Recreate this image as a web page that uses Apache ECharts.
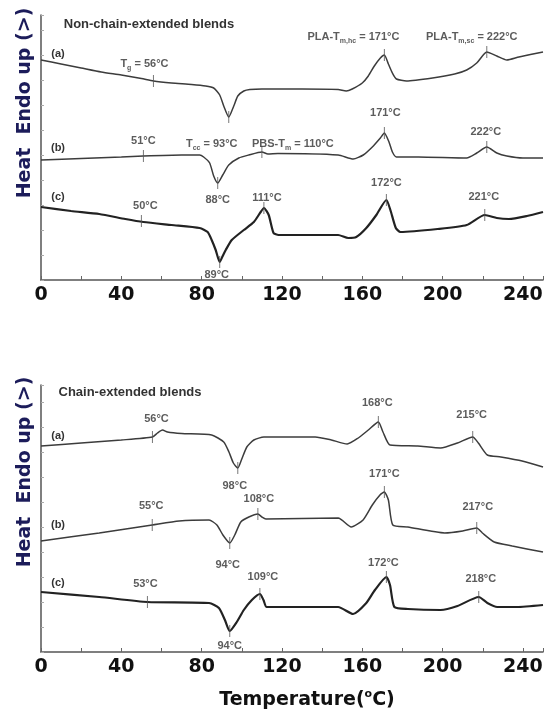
<!DOCTYPE html>
<html>
<head>
<meta charset="utf-8">
<script src="https://cdn.jsdelivr.net/npm/echarts@6/dist/echarts.min.js"></script>
<style>
html, body { margin: 0; padding: 0; background: #fff; }
#dsc { width: 546px; height: 711px; }
</style>
</head>
<body>
<div id="dsc"></div>
<script>
// temperature (°C) vs heat flow (arbitrary units, endo up)
var xTicks = [0, 40, 80, 120, 160, 200, 240]

// non-chain-extended blends
var topA = [[0, 220], [10, 216], [20, 212], [30, 208], [40, 205], [50, 201.5], [56, 199], [65, 197], [75, 195.5], [82, 194],
    [86, 192], [89, 185], [91, 174], [93.5, 163], [96, 174], [98, 184], [101, 189], [104, 190.5], [110, 191], [130, 191],
    [148, 190.5], [152, 189], [155, 191], [160, 197], [163, 204], [166, 214], [169, 222], [171, 225], [173, 216], [175, 207],
    [177, 201], [182, 199], [195, 202], [206, 206], [212, 210], [217, 217], [222, 228], [227, 224], [232, 220], [238, 223], [250, 228]]
var topB = [[0, 120], [20, 121.5], [40, 123], [51, 124], [70, 125], [79, 125], [81, 123], [84, 117], [86, 104], [88, 97],
    [90.5, 105], [93.5, 115], [98.5, 122], [103.5, 125], [110, 128], [113, 126], [118, 126.5], [148, 125], [155.5, 121], [160.5, 125],
    [165, 133], [169, 142], [171, 147], [173.3, 138], [175, 128], [177, 123], [188, 123], [212, 122], [217, 127], [222, 133],
    [227, 127], [232, 124], [240, 122], [250, 122]]
var topC = [[0, 73], [15, 69], [29, 66], [42, 61], [51, 58], [65, 55], [79, 52], [83, 48], [85, 40], [87, 30], [89, 18],
    [90.5, 24], [92, 30], [95, 40], [101, 50], [106, 58], [109.4, 68], [111, 72], [113.4, 65], [115.8, 47], [118.3, 45],
    [148, 45], [153, 42], [157, 43], [162, 52], [167, 65], [172, 80], [174, 70], [176.7, 52], [179, 48], [197.5, 51],
    [212, 55], [221, 65], [227, 62], [233, 61], [242, 64], [250, 68]]

// chain-extended blends
var botA = [[0, 206], [20, 209], [40, 212], [55.5, 215], [58, 219], [60.5, 222], [63, 220], [70, 218.5], [85, 217], [91, 210],
    [93.6, 200], [95.8, 189], [98, 184], [99.8, 192], [102.5, 205], [106, 212], [111, 215], [136.6, 215], [144.6, 212], [152.5, 208],
    [158, 214], [163, 222], [168, 230], [170.3, 220], [173.8, 207], [187.6, 206], [199, 204], [207.4, 209], [215, 215], [217.8, 209],
    [222.3, 197], [229, 195], [239.6, 191], [250, 185]]
var botB = [[0, 111], [29, 119], [55.4, 127], [68.8, 131], [83.7, 132], [87.6, 127], [90.6, 117], [94, 109], [96.5, 117], [99.5, 130],
    [103.5, 135], [108, 138], [110, 135], [112, 133], [148, 134], [154.5, 125], [160.4, 132], [165, 147], [168.8, 157], [171, 160],
    [173, 152], [175.2, 127], [182.7, 125], [201, 119], [210, 121], [217, 124], [219.8, 119], [225.7, 110], [234.7, 106], [250, 100]]
var botC = [[0, 60], [29, 55], [53, 50], [83.7, 49], [88.6, 44], [91.6, 32], [94, 21], [97.5, 30], [101, 42], [105, 52], [109, 58],
    [110.8, 52], [112.4, 45], [148, 45], [155.4, 38], [162, 49], [166.3, 62], [172, 75], [173.8, 67], [176, 45], [182.7, 43],
    [199, 42], [207.4, 46], [218, 55], [222.3, 49], [227.2, 45], [237, 45], [250, 47]]

// labelled transitions [T, heat flow, text]
var marksTop = [
    [56, 199, 'T{s|g} = 56°C'], [93.5, 163, 'T{s|cc} = 93°C'], [110, 128, 'PBS-T{s|m} = 110°C'],
    [171, 225, 'PLA-T{s|m,hc} = 171°C'], [222, 228, 'PLA-T{s|m,sc} = 222°C'],
    [51, 124, '51°C'], [88, 97, '88°C'], [171, 147, '171°C'], [222, 133, '222°C'],
    [50, 59, '50°C'], [89, 18, '89°C'], [111, 72, '111°C'], [172, 80, '172°C'], [221, 65, '221°C']
]
var marksBot = [
    [55.5, 215, '56°C'], [98, 184, '98°C'], [168, 230, '168°C'], [215, 215, '215°C'],
    [55.4, 127, '55°C'], [94, 109, '94°C'], [108, 138, '108°C'], [171, 160, '171°C'], [217, 124, '217°C'],
    [53, 50, '53°C'], [94, 21, '94°C'], [109, 58, '109°C'], [172, 75, '172°C'], [218, 55, '218°C']
]
// label shift from the tick, px
var shiftTop = [[-9, -17], [-17, 27], [31, -8], [-31, -18], [-15, -15],
    [0, -15], [0, 17], [1, -20], [-1, -15],
    [4, -15], [-3, 13], [3, -10], [0, -17], [-1, -18]]
var shiftBot = [[4, -18], [-3, 18], [-1, -19], [-1, -22],
    [-1, -19], [-2, 22], [1, -15], [0, -18], [1, -21],
    [-2, -18], [0, 15], [3, -17], [-3, -14], [2, -18]]

var chart = echarts.init(document.getElementById('dsc'))

var labFont = 'Liberation Sans'
var rich = {
    s: { fontSize: 7, fontFamily: labFont, fontWeight: 'bold', color: '#333', verticalAlign: 'bottom', lineHeight: 16, padding: [5, 0, 0, 0] }
}

function markSeries(idx, marks, shifts) {
    var pts = []
    for (var i in marks) {
        pts.push({
            value: [marks[i][0], marks[i][1]],
            name: marks[i][2],
            label: { offset: shifts[i] }
        })
    }
    return {
        type: 'scatter',
        xAxisIndex: idx,
        yAxisIndex: idx,
        symbol: 'rect',
        symbolSize: [1, 12],
        itemStyle: { color: '#555' },
        silent: true,
        z: 4,
        label: {
            show: true,
            position: 'inside',
            formatter: function (p) { return p.name },
            fontFamily: labFont,
            fontWeight: 'bold',
            fontSize: 11,
            color: '#333',
            lineHeight: 16,
            rich: rich
        },
        data: pts
    }
}

function curve(idx, data, w) {
    return {
        type: 'line',
        xAxisIndex: idx,
        yAxisIndex: idx,
        symbol: 'none',
        smooth: 0.2,
        lineStyle: { color: w > 1.6 ? '#222' : '#3c3c3c', width: w },
        data: data
    }
}

function xAx(idx) {
    return {
        gridIndex: idx,
        type: 'value',
        min: 0,
        max: 250,
        interval: 20,
        axisLine: { show: true, onZero: false, lineStyle: { color: '#555', width: 1.5 } },
        axisTick: { inside: true, length: 4, lineStyle: { color: '#666' } },
        axisLabel: {
            margin: 6,
            fontFamily: 'DejaVu Sans',
            fontWeight: 'bold',
            fontSize: 19,
            color: '#111',
            formatter: function (v) { return xTicks.indexOf(v) >= 0 ? String(v) : '' }
        },
        splitLine: { show: false }
    }
}

function yAx(idx, top) {
    return {
        gridIndex: idx,
        type: 'value',
        min: 0,
        max: top,
        interval: 25,
        axisLine: { show: true, onZero: false, lineStyle: { color: '#555', width: 1.5 } },
        axisTick: { inside: true, length: 3, lineStyle: { color: '#aaa' } },
        axisLabel: { show: false },
        splitLine: { show: false }
    }
}

function txt(x, y, s, font, fill, rot) {
    return {
        type: 'text',
        x: x,
        y: y,
        rotation: rot || 0,
        style: {
            text: s,
            font: font,
            fill: fill,
            textAlign: 'center',
            textVerticalAlign: 'middle',
            rich: {
                o: { fontSize: 11, fontFamily: 'DejaVu Sans', fontWeight: 'bold', fill: '#111', verticalAlign: 'top', lineHeight: 22 }
            }
        }
    }
}

var yName = 'Heat  Endo up (>)'
var option = {
    animation: false,
    grid: [
        { left: 41, right: 0, top: 15, height: 265 },
        { left: 41, right: 0, top: 385, height: 267 }
    ],
    xAxis: [xAx(0), xAx(1)],
    yAxis: [yAx(0, 265), yAx(1, 267)],
    series: [
        curve(0, topA, 1.5), curve(0, topB, 1.5), curve(0, topC, 2.2),
        curve(1, botA, 1.5), curve(1, botB, 1.5), curve(1, botC, 2.2),
        markSeries(0, marksTop, shiftTop),
        markSeries(1, marksBot, shiftBot)
    ],
    graphic: [
        txt(149, 24, 'Non-chain-extended blends', 'bold 13px "Liberation Sans"', '#333'),
        txt(130, 392, 'Chain-extended blends', 'bold 13px "Liberation Sans"', '#333'),
        txt(58, 54, '(a)', '600 11px "Liberation Sans"', '#333'),
        txt(58, 148, '(b)', '600 11px "Liberation Sans"', '#333'),
        txt(58, 197, '(c)', '600 11px "Liberation Sans"', '#333'),
        txt(58, 436, '(a)', '600 11px "Liberation Sans"', '#333'),
        txt(58, 525, '(b)', '600 11px "Liberation Sans"', '#333'),
        txt(58, 583, '(c)', '600 11px "Liberation Sans"', '#333'),
        txt(25, 103, yName, 'bold 19px "DejaVu Sans"', '#1c1c5a', Math.PI / 2),
        txt(25, 472, yName, 'bold 19px "DejaVu Sans"', '#1c1c5a', Math.PI / 2),
        txt(307, 700, 'Temperature({o|o}C)', 'bold 19px "DejaVu Sans"', '#111')
    ]
}
chart.setOption(option)
</script>
</body>
</html>
